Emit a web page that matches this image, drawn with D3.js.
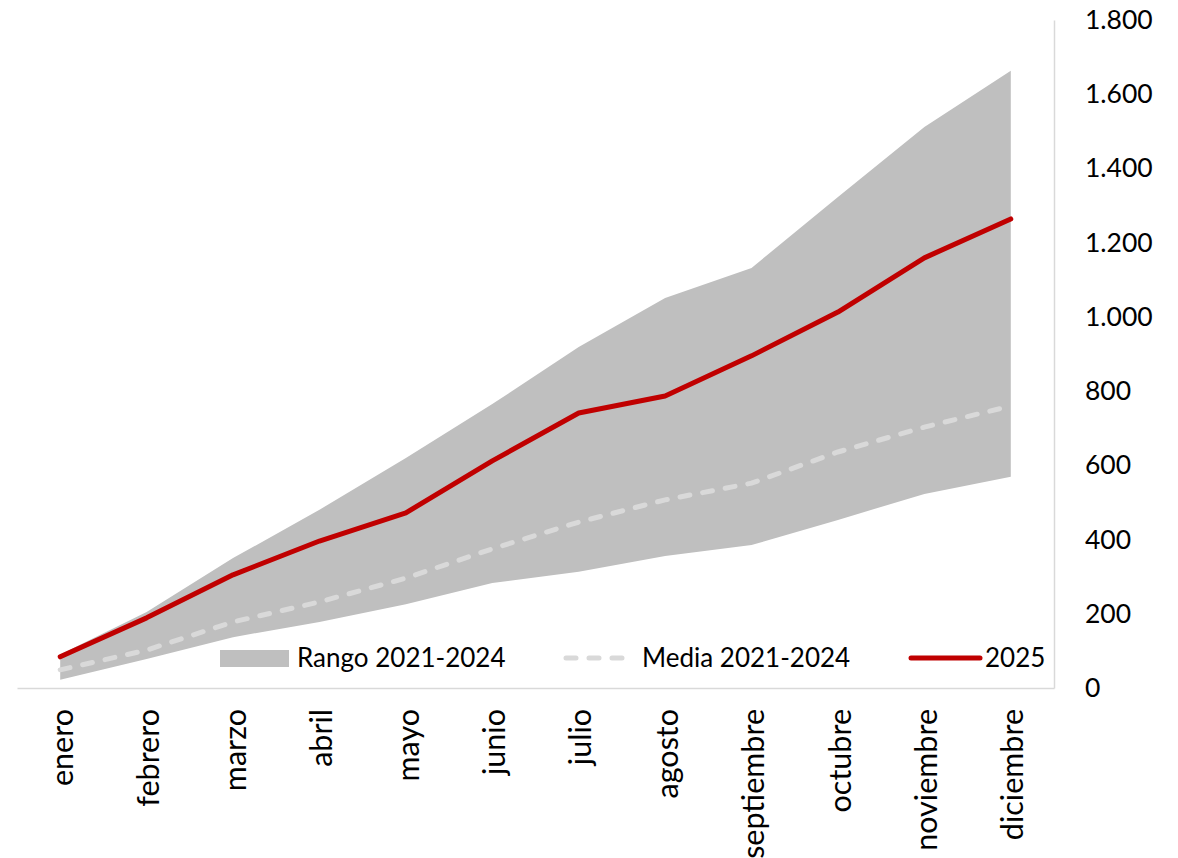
<!DOCTYPE html>
<html><head><meta charset="utf-8">
<script src="https://cdn.jsdelivr.net/npm/d3@7"></script>
<style>
html,body{margin:0;padding:0;background:#fff;}
text{font-family:Lato,"Open Sans",sans-serif;fill:#000;}
</style></head>
<body>
<svg id="chart" width="1178" height="858"></svg>
<script>
const months = ["enero","febrero","marzo","abril","mayo","junio","julio","agosto","septiembre","octubre","noviembre","diciembre"];
const rangeLow  = [22, 78, 137, 178, 226, 283, 313, 356, 385, 453, 523, 569];
const rangeHigh = [90, 205, 350, 480, 620, 765, 919, 1051, 1132, 1323, 1512, 1663];
const media     = [49, 102, 178, 232, 296, 375, 447, 507, 552, 636, 703, 760];
const y2025     = [84, 189, 305, 396, 472, 612, 741, 787, 895, 1013, 1159, 1264];
const yTicks    = [0, 200, 400, 600, 800, 1000, 1200, 1400, 1600, 1800];
const legendLabels = ["Rango 2021-2024", "Media 2021-2024", "2025"];

const svg = d3.select("#chart");
const x = d3.scaleBand().domain(months).range([17, 1054]);
const y = d3.scaleLinear().domain([0, 1800]).range([688, 20]);
const cx = m => x(m) + x.bandwidth() / 2;
const fmt = v => d3.format(",")(v).replace(/,/g, ".");

// Range area
const area = d3.area()
  .x((d, i) => cx(months[i]))
  .y0((d, i) => y(rangeLow[i]))
  .y1((d, i) => y(rangeHigh[i]));
svg.append("path").datum(months).attr("d", area).attr("fill", "#bfbfbf");

// axes
const xAxis = svg.append("g").attr("transform", "translate(0,688)")
  .call(d3.axisBottom(x).tickSize(0).tickPadding(0));
xAxis.select(".domain").attr("stroke", "#d9d9d9").attr("stroke-width", 1.5);
xAxis.selectAll("text")
  .attr("font-size", 30.5)
  .attr("transform", "rotate(-90)")
  .attr("text-anchor", "end")
  .attr("x", -21)
  .attr("y", 2)
  .attr("dy", "0.35em")
  .style("font-family", "Lato");

const yAxis = svg.append("g").attr("transform", "translate(1054,0)")
  .call(d3.axisRight(y).tickValues(yTicks).tickFormat(fmt).tickSize(0).tickPadding(31));
yAxis.select(".domain").attr("stroke", "#d9d9d9").attr("stroke-width", 1.5);
yAxis.selectAll("text").attr("font-size", 26.5).style("font-family", "Lato");

// media line
const lineMedia = d3.line().x((d, i) => cx(months[i])).y(d => y(d));
svg.append("path").datum(media).attr("d", lineMedia)
  .attr("fill", "none").attr("stroke", "#d9d9d9").attr("stroke-width", 5)
  .attr("stroke-dasharray", "10 13").attr("stroke-linecap", "round");

// 2025 line
svg.append("path").datum(y2025).attr("d", lineMedia)
  .attr("fill", "none").attr("stroke", "#c00000").attr("stroke-width", 5)
  .attr("stroke-linejoin", "round").attr("stroke-linecap", "round");

// legend
const lg = svg.append("g");
const ly = 658;
lg.append("rect").attr("x", 220).attr("y", 650).attr("width", 69).attr("height", 17).attr("fill", "#bfbfbf");
lg.append("text").attr("x", 297).attr("y", ly).attr("dy", "0.35em").attr("font-size", 26).text(legendLabels[0]);
lg.append("line").attr("x1", 566).attr("x2", 626).attr("y1", ly).attr("y2", ly)
  .attr("stroke", "#d9d9d9").attr("stroke-width", 5).attr("stroke-dasharray", "10 13").attr("stroke-linecap", "round");
lg.append("text").attr("x", 642).attr("y", ly).attr("dy", "0.35em").attr("font-size", 26).text(legendLabels[1]);
lg.append("line").attr("x1", 911).attr("x2", 980).attr("y1", ly).attr("y2", ly)
  .attr("stroke", "#c00000").attr("stroke-width", 5).attr("stroke-linecap", "round");
lg.append("text").attr("x", 985).attr("y", ly).attr("dy", "0.35em").attr("font-size", 26).text(legendLabels[2]);
</script>
</body></html>
